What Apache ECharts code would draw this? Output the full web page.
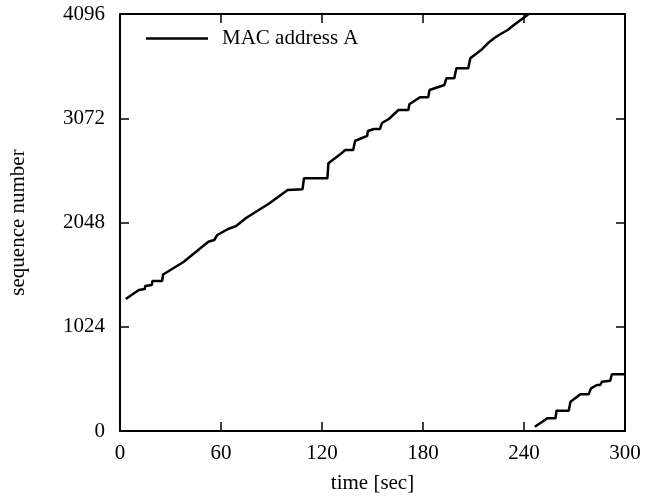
<!DOCTYPE html>
<html>
<head>
<meta charset="utf-8">
<script src="https://cdn.jsdelivr.net/npm/echarts@6/dist/echarts.min.js"></script>
<style>html,body{margin:0;padding:0;background:#fff}#c{width:645px;height:499px}</style>
</head>
<body>
<div id="c"></div>
<script>
var seriesName = 'MAC address A';
var xTicks = [0, 60, 120, 180, 240, 300];
var yTicks = [0, 1024, 2048, 3072, 4096];

var seg1Time = [3.4, 11.2, 14.7, 15.0, 18.9, 19.2, 25.0, 25.6, 37.7, 52.5, 56.0, 57.8, 64.2, 69.0, 74.9, 88.8, 99.6, 108.4, 109.3, 123.2, 123.8, 132.0, 133.8, 138.5, 139.7, 143.8, 146.8, 147.3, 150.9, 154.4, 155.6, 159.7, 165.4, 171.3, 171.9, 178.2, 183.1, 183.9, 192.7, 193.9, 198.6, 199.8, 206.9, 208.1, 214.5, 218.5, 222.2, 225.1, 230.3, 234.0, 242.8];
var seg1Seq = [1297, 1385, 1395, 1424, 1434, 1473, 1473, 1537, 1660, 1859, 1876, 1925, 1984, 2014, 2092, 2237, 2367, 2374, 2482, 2482, 2629, 2734, 2760, 2760, 2851, 2878, 2898, 2947, 2966, 2966, 3025, 3065, 3153, 3153, 3209, 3278, 3278, 3349, 3399, 3464, 3464, 3563, 3563, 3661, 3742, 3808, 3857, 3890, 3939, 3988, 4096];

var seg2Time = [246.4, 250.9, 253.8, 258.7, 259.3, 266.6, 267.6, 273.5, 278.4, 279.8, 283.3, 285.3, 286.3, 291.2, 292.2, 300];
var seg2Seq = [42, 91, 125, 125, 199, 199, 288, 360, 360, 419, 452, 452, 484, 494, 557, 557];

function pairs(t, v) { return t.map(function (x, i) { return [x, v[i]]; }); }

var FONT = 'Liberation Serif';
var lbl = { color: '#000', fontFamily: FONT, fontSize: 21 };
var axLine = { show: true, onZero: false, lineStyle: { color: '#000', width: 2 } };
var axTick = { show: true, inside: true, length: 9, lineStyle: { color: '#000', width: 1.5 } };

var chart = echarts.init(document.getElementById('c'), null, { renderer: 'canvas' });
chart.setOption({
  animation: false,
  backgroundColor: '#fff',
  grid: { left: 116, right: 20, top: 14, bottom: 68, containLabel: false },
  legend: {
    data: [seriesName],
    left: 141, top: 23,
    icon: 'rect', itemWidth: 62, itemHeight: 2.5,
    textStyle: { color: '#000', fontFamily: FONT, fontSize: 21, padding: [0, 0, 0, 9] }
  },
  xAxis: [{
    type: 'value', position: 'bottom', min: 0, max: 300, interval: 60,
    name: 'time [sec]', nameLocation: 'middle', nameGap: 42,
    nameTextStyle: lbl,
    axisLine: axLine, axisTick: axTick, splitLine: { show: false },
    axisLabel: { color: '#000', fontFamily: FONT, fontSize: 21, margin: 12,
      formatter: function (v) { return xTicks.indexOf(v) >= 0 ? String(v) : ''; } }
  }, {
    type: 'value', position: 'top', min: 0, max: 300, interval: 60,
    axisLine: axLine, axisTick: axTick, splitLine: { show: false }, axisLabel: { show: false }
  }],
  yAxis: [{
    type: 'value', position: 'left', min: 0, max: 4096, interval: 1024,
    name: 'sequence number', nameLocation: 'middle', nameGap: 91, nameRotate: 90,
    nameTextStyle: lbl,
    axisLine: axLine, axisTick: axTick, splitLine: { show: false },
    axisLabel: { color: '#000', fontFamily: FONT, fontSize: 21, margin: 15,
      formatter: function (v) { return yTicks.indexOf(v) >= 0 ? String(v) : ''; } }
  }, {
    type: 'value', position: 'right', min: 0, max: 4096, interval: 1024,
    axisLine: axLine, axisTick: axTick, splitLine: { show: false }, axisLabel: { show: false }
  }],
  series: [{
    name: seriesName, type: 'line', xAxisIndex: 0, yAxisIndex: 0,
    data: pairs(seg1Time, seg1Seq), showSymbol: false, symbol: 'none',
    lineStyle: { color: '#000', width: 2.5 }, itemStyle: { color: '#000' }
  }, {
    name: seriesName, type: 'line', xAxisIndex: 0, yAxisIndex: 0,
    data: pairs(seg2Time, seg2Seq), showSymbol: false, symbol: 'none',
    lineStyle: { color: '#000', width: 2.5 }, itemStyle: { color: '#000' }
  }]
});
</script>
</body>
</html>
